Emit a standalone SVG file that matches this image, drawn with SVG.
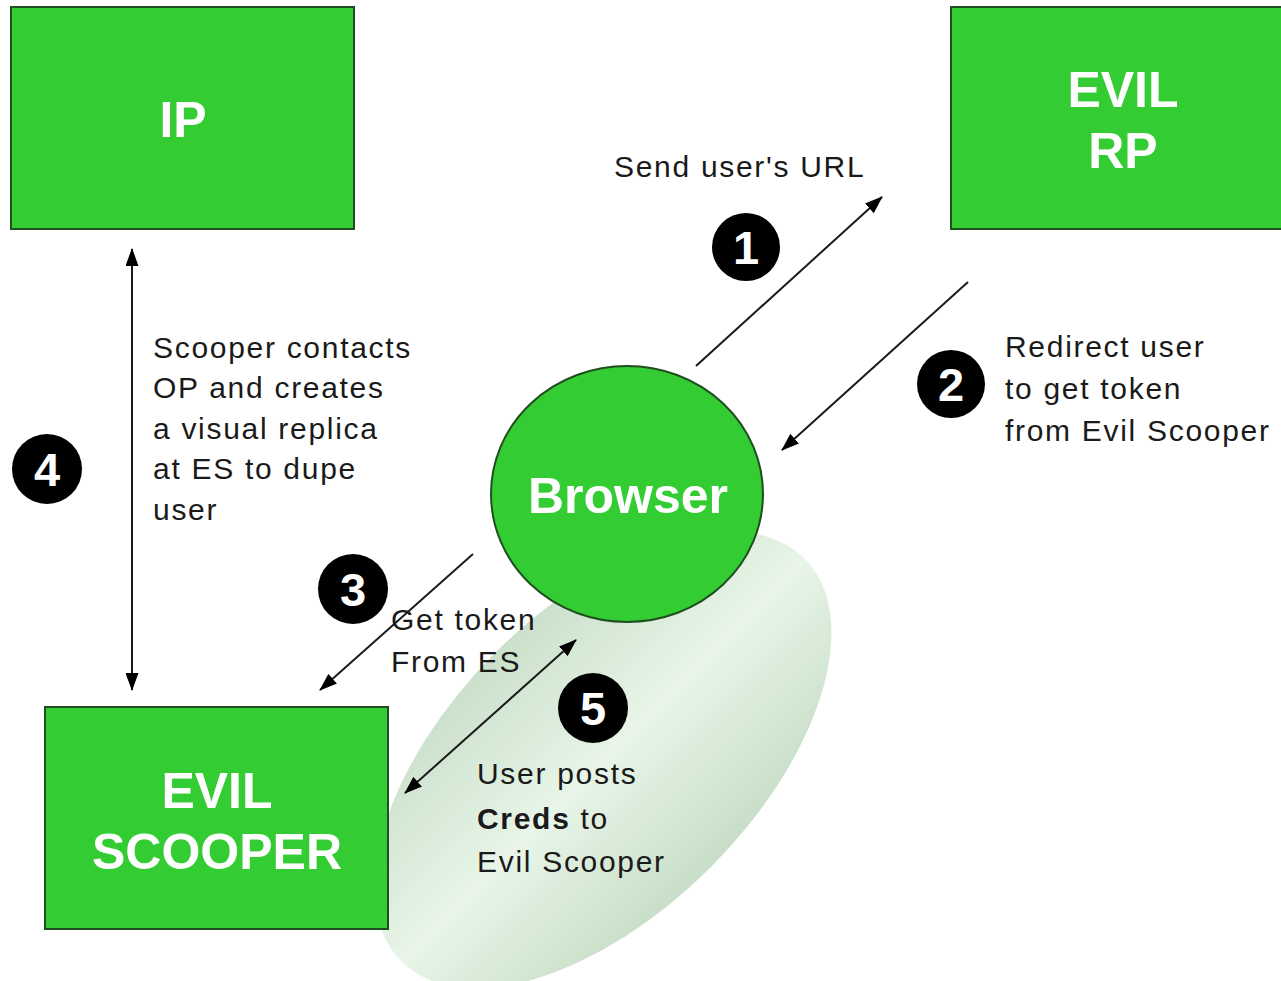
<svg xmlns="http://www.w3.org/2000/svg" width="1281" height="981" viewBox="0 0 1281 981">
<defs>
<style>
.box{fill:#33cc33;stroke:#1f4f1f;stroke-width:2}
.title{font-family:"Liberation Sans",Arial,sans-serif;font-weight:bold;font-size:50px;fill:#ffffff;text-anchor:middle}
.lbl{font-family:"Liberation Sans",Arial,sans-serif;font-size:30px;fill:#1a1a1a;letter-spacing:1.7px}
.num{fill:#000000}
.digit{font-family:"Liberation Sans",Arial,sans-serif;font-weight:bold;font-size:47px;fill:#ffffff;text-anchor:middle}
.conn{stroke:#1a1a1a;stroke-width:2;fill:none}
</style>
<marker id="ah" viewBox="0 0 18 13" markerWidth="18" markerHeight="13" refX="17" refY="6.5" orient="auto-start-reverse" markerUnits="userSpaceOnUse">
<path d="M0,0 L18,6.5 L0,13 z" fill="#000000"/>
</marker>
<linearGradient id="blob" x1="0" y1="0" x2="0" y2="1">
<stop offset="0" stop-color="#cbe0cb"/>
<stop offset="0.5" stop-color="#e8f5e8"/>
<stop offset="1" stop-color="#c8dec8"/>
</linearGradient>
</defs>
<rect width="1281" height="981" fill="#ffffff"/>

<ellipse id="highlight" cx="603" cy="760" rx="285" ry="152" transform="rotate(-45 603 760)" fill="url(#blob)"/>

<g id="ip">
<rect class="box" x="11" y="7" width="343" height="222"/>
<text class="title" x="183" y="137">IP</text>
</g>

<g id="evil-rp">
<rect class="box" x="951" y="7" width="350" height="222"/>
<text class="title" x="1123" y="107">EVIL</text>
<text class="title" x="1123" y="168">RP</text>
</g>

<g id="evil-scooper">
<rect class="box" x="45" y="707" width="343" height="222"/>
<text class="title" x="217" y="808">EVIL</text>
<text class="title" x="217" y="869">SCOOPER</text>
</g>

<g id="browser">
<ellipse cx="627" cy="494" rx="136" ry="128" fill="#33cc33" stroke="#1f4f1f" stroke-width="2"/>
<text class="title" x="628" y="513">Browser</text>
</g>

<g id="connectors">
<line class="conn" x1="696" y1="366" x2="882" y2="197" marker-end="url(#ah)"/>
<line class="conn" x1="968" y1="282" x2="782" y2="450" marker-end="url(#ah)"/>
<line class="conn" x1="473" y1="554" x2="320" y2="690" marker-end="url(#ah)"/>
<line class="conn" x1="132" y1="249" x2="132" y2="690" marker-start="url(#ah)" marker-end="url(#ah)"/>
<line class="conn" x1="576" y1="640" x2="405" y2="793" marker-start="url(#ah)" marker-end="url(#ah)"/>
</g>

<g id="step-1">
<circle class="num" cx="746" cy="247" r="34"/>
<text class="digit" x="746" y="264">1</text>
<text class="lbl" x="614" y="177">Send user's URL</text>
</g>

<g id="step-2">
<circle class="num" cx="951" cy="384" r="34"/>
<text class="digit" x="951" y="401">2</text>
<text class="lbl" x="1005" y="357">Redirect user</text>
<text class="lbl" x="1005" y="399">to get token</text>
<text class="lbl" x="1005" y="441">from Evil Scooper</text>
</g>

<g id="step-3">
<circle class="num" cx="353" cy="589" r="35"/>
<text class="digit" x="353" y="606">3</text>
<text class="lbl" x="391" y="630">Get token</text>
<text class="lbl" x="391" y="672">From ES</text>
</g>

<g id="step-4">
<circle class="num" cx="47" cy="469" r="35"/>
<text class="digit" x="47" y="486">4</text>
<text class="lbl" x="153" y="358">Scooper contacts</text>
<text class="lbl" x="153" y="398">OP and creates</text>
<text class="lbl" x="153" y="439">a visual replica</text>
<text class="lbl" x="153" y="479">at ES to dupe</text>
<text class="lbl" x="153" y="520">user</text>
</g>

<g id="step-5">
<circle class="num" cx="593" cy="708" r="35"/>
<text class="digit" x="593" y="725">5</text>
<text class="lbl" x="477" y="784">User posts</text>
<text class="lbl" x="477" y="829"><tspan font-weight="bold">Creds</tspan> to</text>
<text class="lbl" x="477" y="872">Evil Scooper</text>
</g>
</svg>
